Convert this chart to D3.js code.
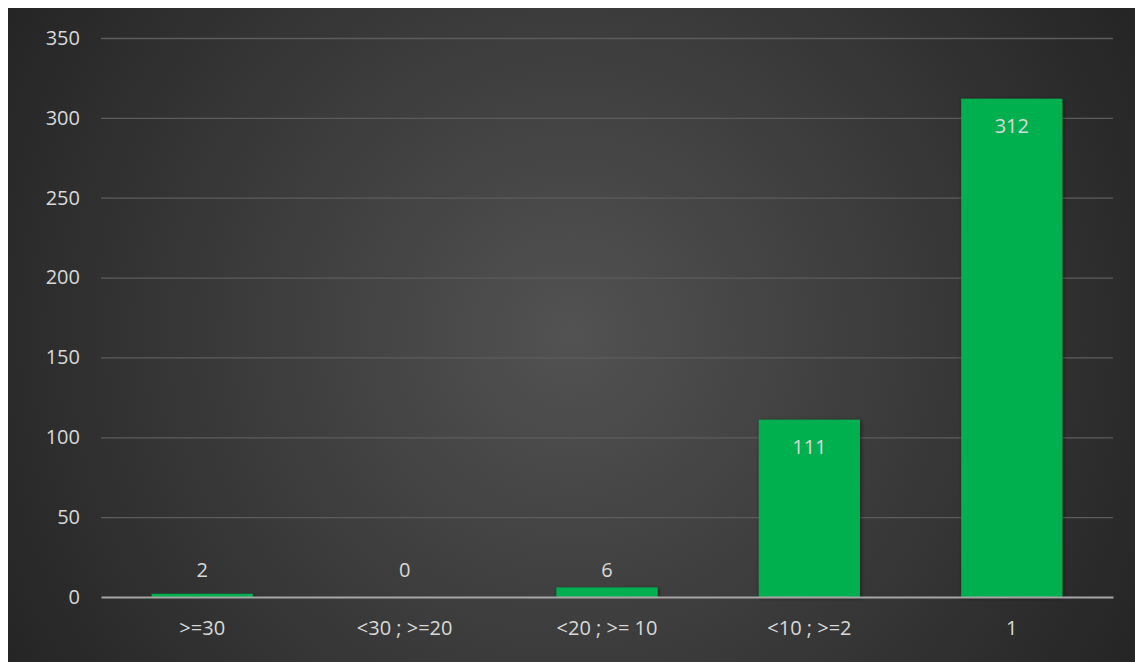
<!DOCTYPE html>
<html>
<head>
<meta charset="utf-8">
<script src="https://cdn.jsdelivr.net/npm/d3@7/dist/d3.min.js"></script>
<style>
  html, body { margin: 0; padding: 0; background: #ffffff; }
  svg { display: block; }
  text { font-family: "Open Sans", "Noto Sans", sans-serif; }
</style>
</head>
<body>
<svg id="chart" width="1135" height="662"></svg>
<script>
const categories = [">=30", "<30 ; >=20", "<20 ; >= 10", "<10 ; >=2", "1"];
const values = [2, 0, 6, 111, 312];
const yTicks = [0, 50, 100, 150, 200, 250, 300, 350];

const W = 1135, H = 662;
const svg = d3.select("#chart");
const defs = svg.append("defs");

const grad = defs.append("radialGradient")
  .attr("id", "bg").attr("gradientUnits", "userSpaceOnUse")
  .attr("cx", 570).attr("cy", 335).attr("r", 660);
grad.append("stop").attr("offset", "0%").attr("stop-color", "#525252");
grad.append("stop").attr("offset", "100%").attr("stop-color", "#242424");

const shadow = defs.append("filter").attr("id", "shadow")
  .attr("x", "-10%").attr("y", "-10%").attr("width", "120%").attr("height", "120%");
shadow.append("feDropShadow").attr("dx", 1).attr("dy", 1).attr("stdDeviation", 2)
  .attr("flood-color", "#000").attr("flood-opacity", 0.5);

svg.append("rect").attr("x", 8).attr("y", 8).attr("width", W - 8).attr("height", H - 8)
  .attr("fill", "url(#bg)");

const x0 = 101, x1 = 1113, yTop = 38, yBot = 597;

const x = d3.scaleBand().domain(categories).range([x0, x1]).paddingInner(0.5).paddingOuter(0.25);
const y = d3.scaleLinear().domain([0, 350]).range([yBot, yTop]);

// gridlines
const grid = svg.append("g").attr("class", "grid")
  .call(d3.axisLeft(y).tickValues(yTicks).tickSize(-(x1 - x0)).tickFormat(""))
  .attr("transform", `translate(${x0},0)`);
grid.select(".domain").remove();
grid.selectAll(".tick line").attr("stroke", "#5c5c5c").attr("stroke-width", 1.3)
  .filter(d => d === 0).remove();

// y labels
const yAxis = svg.append("g").attr("transform", `translate(${x0},0)`)
  .call(d3.axisLeft(y).tickValues(yTicks).tickSize(0).tickPadding(21));
yAxis.select(".domain").remove();
yAxis.selectAll("text").attr("fill", "#d9d9d9").attr("font-size", 20)
  .attr("font-family", "'Open Sans', sans-serif");

// bars
svg.append("g").selectAll("rect").data(values).join("rect")
  .attr("x", (d, i) => x(categories[i]))
  .attr("y", d => y(d))
  .attr("width", x.bandwidth())
  .attr("height", d => y(0) - y(d))
  .attr("fill", "#00b050")
  .attr("filter", "url(#shadow)");

// x axis line
const xAxis = svg.append("g").attr("transform", `translate(0,${yBot})`)
  .call(d3.axisBottom(x).tickSize(0).tickPadding(24).tickSizeOuter(0));
xAxis.select(".domain").attr("stroke", "#a6a6a6").attr("stroke-width", 2);
xAxis.selectAll("text").attr("fill", "#d9d9d9").attr("font-size", 20)
  .attr("font-family", "'Open Sans', sans-serif");

// value labels
svg.append("g").selectAll("text").data(values).join("text")
  .attr("x", (d, i) => x(categories[i]) + x.bandwidth() / 2)
  .attr("y", d => (y(0) - y(d) > 40) ? y(d) + 29 : Math.min(y(d) - 15, y(0) - 25))
  .attr("text-anchor", "middle")
  .attr("dominant-baseline", "middle")
  .attr("fill", "#d9d9d9")
  .attr("font-size", 20)
  .text(d => d);
</script>
</body>
</html>
